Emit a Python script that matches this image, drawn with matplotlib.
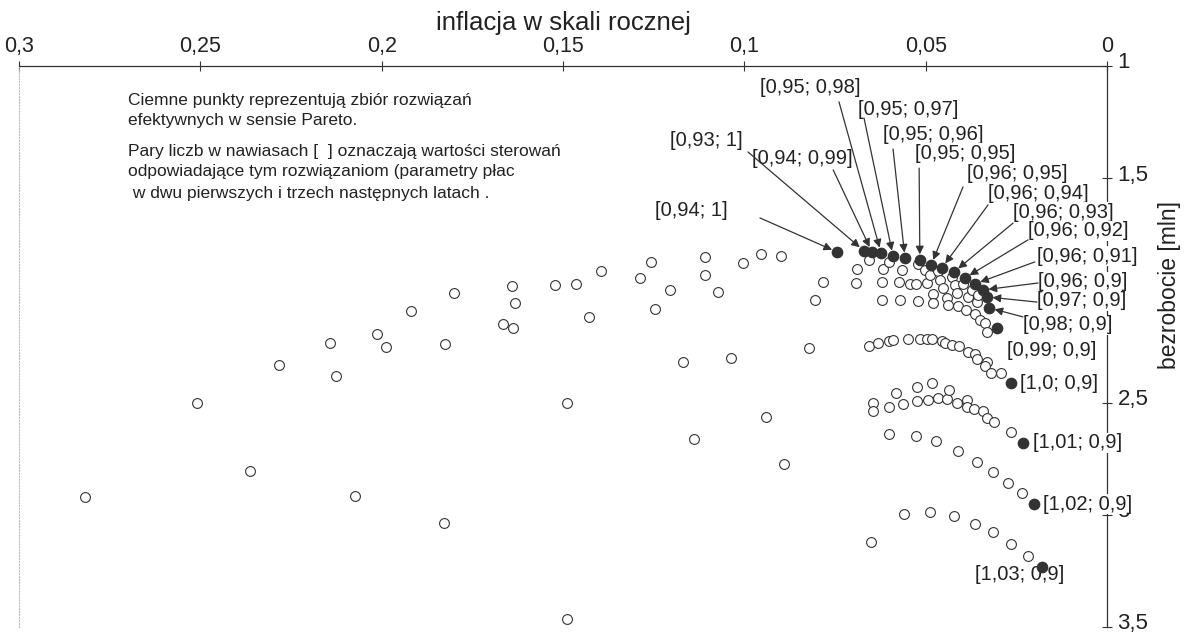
import matplotlib
matplotlib.use('Agg')
import matplotlib.pyplot as plt
from matplotlib.transforms import ScaledTranslation

plt.rcParams['font.family'] = ['Liberation Sans', 'DejaVu Sans']

# --- data: inflation (x) vs unemployment in mln (y) ---
# all simulated solutions (open circles)
open_x = [0.1800, 0.1919, 0.2013, 0.2142, 0.1988, 0.1825, 0.2283, 0.2126, 0.2509, 0.2363,
          0.2818, 0.2073, 0.1828,
          0.1640, 0.1522, 0.1464, 0.1395, 0.1257, 0.1288, 0.1108, 0.1108, 0.1004, 0.0954,
          0.0899, 0.0689, 0.0692, 0.0783, 0.0805, 0.1205, 0.1073, 0.1632, 0.1428, 0.1246,
          0.1665, 0.1638, 0.0822, 0.1169, 0.1037, 0.1489, 0.0940, 0.1139, 0.0891, 0.1489,
          0.0656, 0.0618, 0.0601, 0.0620, 0.0620, 0.0571, 0.0521, 0.0573, 0.0565, 0.0543,
          0.0527, 0.0521, 0.0502, 0.0496, 0.0488, 0.0480, 0.0480, 0.0466, 0.0460, 0.0452,
          0.0441, 0.0438, 0.0427, 0.0419, 0.0414, 0.0411, 0.0397, 0.0389, 0.0383, 0.0372,
          0.0364, 0.0358, 0.0356, 0.0350, 0.0336, 0.0331,
          0.0656, 0.0631, 0.0601, 0.0590, 0.0549, 0.0516, 0.0496, 0.0482, 0.0455, 0.0447,
          0.0427, 0.0408, 0.0383, 0.0364, 0.0358, 0.0331, 0.0336, 0.0320, 0.0292,
          0.0645, 0.0645, 0.0601, 0.0582, 0.0562, 0.0524, 0.0524, 0.0494, 0.0482, 0.0466,
          0.0441, 0.0436, 0.0414, 0.0386, 0.0386, 0.0367, 0.0342, 0.0331, 0.0312, 0.0265,
          0.0601, 0.0527, 0.0471, 0.0411, 0.0358, 0.0314, 0.0273, 0.0234,
          0.0560, 0.0488, 0.0422, 0.0364, 0.0314, 0.0265, 0.0218, 0.0651]
open_y = [2.012, 2.092, 2.194, 2.234, 2.252, 2.239, 2.332, 2.381, 2.502, 2.805,
          2.921, 2.916, 3.036,
          1.980, 1.976, 1.971, 1.913, 1.873, 1.945, 1.851, 1.931, 1.878, 1.838,
          1.847, 1.905, 1.967, 1.962, 2.043, 1.998, 2.007, 2.056, 2.118, 2.083,
          2.150, 2.167, 2.257, 2.319, 2.301, 2.502, 2.564, 2.662, 2.773, 3.464,
          1.864, 1.905, 1.873, 1.962, 2.043, 2.043, 2.047, 1.962, 1.909, 1.971,
          1.971, 1.882, 1.909, 1.967, 1.931, 2.016, 2.056, 1.913, 1.954, 1.989,
          2.034, 2.065, 1.940, 1.976, 2.011, 2.069, 1.971, 2.087, 2.029, 1.998,
          2.105, 2.052, 2.020, 2.132, 2.145, 2.185,
          2.248, 2.234, 2.225, 2.221, 2.216, 2.216, 2.216, 2.216, 2.225, 2.234,
          2.243, 2.248, 2.274, 2.283, 2.306, 2.319, 2.337, 2.368, 2.368,
          2.502, 2.537, 2.520, 2.457, 2.506, 2.430, 2.493, 2.488, 2.413, 2.479,
          2.484, 2.444, 2.502, 2.488, 2.520, 2.528, 2.537, 2.569, 2.586, 2.631,
          2.640, 2.649, 2.671, 2.716, 2.765, 2.809, 2.858, 2.903,
          2.996, 2.987, 3.005, 3.041, 3.076, 3.130, 3.183, 3.121]

# Pareto-efficient solutions (filled) and their control values
pareto_labels = ['[0,94; 1]', '[0,93; 1]', '[0,94; 0,99]', '[0,95; 0,98]', '[0,95; 0,97]',
                 '[0,95; 0,96]', '[0,95; 0,95]', '[0,96; 0,95]', '[0,96; 0,94]', '[0,96; 0,93]',
                 '[0,96; 0,92]', '[0,96; 0,91]', '[0,96; 0,9]', '[0,97; 0,9]', '[0,98; 0,9]',
                 '[0,99; 0,9]', '[1,0; 0,9]', '[1,01; 0,9]', '[1,02; 0,9]', '[1,03; 0,9]']
pareto_x = [0.0744, 0.0670, 0.0648, 0.0623, 0.0590, 0.0557, 0.0516, 0.0485, 0.0455, 0.0422,
            0.0392, 0.0364, 0.0342, 0.0331, 0.0325, 0.0303, 0.0265, 0.0232, 0.0201, 0.0179]
pareto_y = [1.829, 1.824, 1.829, 1.833, 1.847, 1.856, 1.864, 1.887, 1.900, 1.918,
            1.945, 1.971, 1.998, 2.029, 2.078, 2.167, 2.413, 2.680, 2.952, 3.232]

x_ticks = [0.3, 0.25, 0.2, 0.15, 0.1, 0.05, 0]
x_ticklabels = ['0,3', '0,25', '0,2', '0,15', '0,1', '0,05', '0']
y_ticks = [1, 1.5, 2, 2.5, 3, 3.5]
y_ticklabels = ['1', '1,5', '', '2,5', '3', '3,5']   # "2" is hidden under a label in the original

note_lines = ['Ciemne punkty reprezentują zbiór rozwiązań',
              'efektywnych w sensie Pareto.',
              'Pary liczb w nawiasach [  ] oznaczają wartości sterowań',
              'odpowiadające tym rozwiązaniom (parametry płac',
              ' w dwu pierwszych i trzech następnych latach .']

# --- layout: label text positions (left edge, centre) and arrow starts ---
label_pos = [(0.1246, 1.642), (0.1205, 1.330), (0.0979, 1.410), (0.0957, 1.094), (0.0687, 1.192),
             (0.0618, 1.307), (0.0529, 1.388), (0.0386, 1.477), (0.0328, 1.566), (0.0259, 1.651),
             (0.0218, 1.735), (0.0193, 1.847), (0.0190, 1.962), (0.0193, 2.047), (0.0232, 2.154),
             (0.0276, 2.266), (0.0240, 2.413), (0.0204, 2.680), (0.0176, 2.952), (0.0364, 3.268)]
arrow_start = [(0.0957, 1.677), (0.0990, 1.383), (0.0755, 1.463), (0.0739, 1.160), (0.0670, 1.232),
               (0.0590, 1.370), (0.0518, 1.455), (0.0397, 1.539), (0.0328, 1.619), (0.0259, 1.700),
               (0.0218, 1.775), (0.0199, 1.873), (0.0190, 1.967), (0.0193, 2.052), (0.0232, 2.118),
               None, None, None, None, None]
note_y = [1.152, 1.241, 1.379, 1.472, 1.566]

ink = '#333333'
txt = '#222222'

fig = plt.figure(figsize=(11.87, 6.35), dpi=100)
ax = fig.add_axes([19 / 1187, 1 - 627 / 635, 1088 / 1187, 561 / 635])

ax.scatter(open_x, open_y, s=50, facecolor='white', edgecolor=ink, linewidth=0.8, zorder=4)
ax.scatter(pareto_x, pareto_y, s=55, color=ink, zorder=5)

for lab, (tx, ty), start, px, py in zip(pareto_labels, label_pos, arrow_start, pareto_x, pareto_y):
    ax.text(tx, ty, lab, fontsize=14.5, ha='left', va='center', color=txt, zorder=3,
            bbox=dict(facecolor='white', edgecolor='none', pad=0.5))
    if start is not None:
        ax.annotate('', xy=(px, py), xytext=start, zorder=3.5,
                    arrowprops=dict(arrowstyle='-|>', color=ink, lw=0.9,
                                    mutation_scale=12, shrinkA=0, shrinkB=4))

for line, ny in zip(note_lines, note_y):
    ax.text(0.2699, ny, line, fontsize=12.5, ha='left', va='center', color=txt)

ax.set_xlim(0.3, 0)
ax.set_ylim(3.5, 1)

ax.xaxis.tick_top()
ax.xaxis.set_label_position('top')
ax.set_xticks(x_ticks)
ax.set_xticklabels(x_ticklabels, fontsize=15.5, color=txt)
ax.set_xlabel('inflacja w skali rocznej', fontsize=18.5, color=txt, labelpad=4)

ax.yaxis.tick_right()
ax.set_yticks(y_ticks)
ax.set_yticklabels(y_ticklabels, fontsize=16, color=txt)
ax.set_ylabel('bezrobocie [mln]', fontsize=16.5, color=txt)
ax.yaxis.set_label_position('right')
ax.yaxis.set_label_coords(1.047, 0.61)

ax.tick_params(axis='both', direction='inout', length=7, width=0.8, color=ink)
ax.tick_params(axis='x', pad=3)
ax.tick_params(axis='y', pad=4)

# nudge right-hand tick labels up a little, as in the original
up = ScaledTranslation(0, 4 / 72, fig.dpi_scale_trans)
for lbl in ax.get_yticklabels():
    lbl.set_transform(lbl.get_transform() + up)

ax.spines['bottom'].set_visible(False)
ax.spines['top'].set_color(ink)
ax.spines['right'].set_color(ink)
ax.spines['top'].set_linewidth(0.9)
ax.spines['right'].set_linewidth(0.9)
ax.spines['left'].set_color('#bbbbbb')
ax.spines['left'].set_linestyle(':')
ax.spines['left'].set_linewidth(0.8)

fig.savefig('out.png', dpi=100)
